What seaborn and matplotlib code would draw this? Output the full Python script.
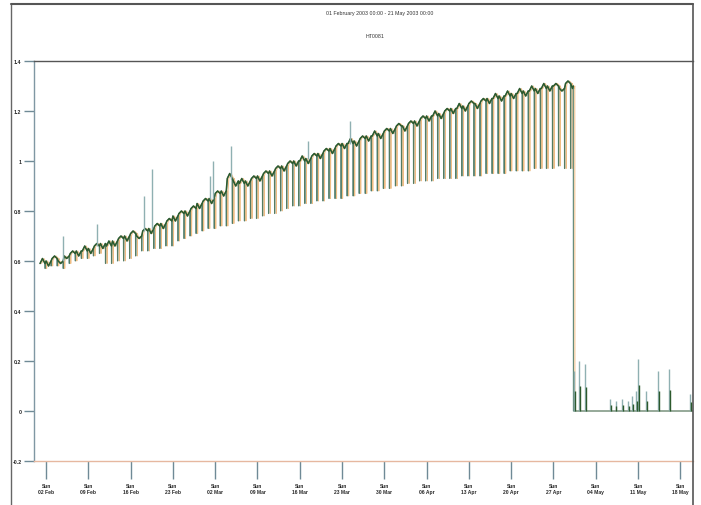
import pandas as pd
import numpy as np
import matplotlib
matplotlib.use("Agg")
import matplotlib.pyplot as plt
import seaborn as sns

# daily upper level, 01 Feb .. 30 Apr 2003
day_high = [0.59, 0.60, 0.61, 0.60, 0.62, 0.63, 0.64,
            0.64, 0.65, 0.66, 0.67, 0.66, 0.68, 0.69,
            0.70, 0.71, 0.70, 0.72, 0.73, 0.74, 0.75,
            0.76, 0.78, 0.79, 0.80, 0.81, 0.83, 0.84,
            0.85, 0.87, 0.88, 0.93, 0.92, 0.91, 0.92,
            0.93, 0.94, 0.95, 0.96, 0.97, 0.98, 0.99,
            1.00, 1.00, 1.01, 1.02, 1.03, 1.04, 1.05,
            1.06, 1.07, 1.07, 1.08, 1.09, 1.10, 1.10,
            1.11, 1.12, 1.13, 1.14, 1.14, 1.15, 1.16,
            1.17, 1.18, 1.18, 1.19, 1.20, 1.21, 1.21,
            1.22, 1.23, 1.23, 1.24, 1.25, 1.25, 1.26,
            1.26, 1.27, 1.27, 1.28, 1.28, 1.29, 1.29,
            1.30, 1.30, 1.29, 1.31, 1.30]
# mid-day level (the small wiggle between dips)
day_mid = [0.61, 0.58, 0.62, 0.59, 0.61, 0.64, 0.62,
           0.66, 0.63, 0.67, 0.65, 0.68, 0.66, 0.70,
           0.68, 0.72, 0.69, 0.73, 0.71, 0.75, 0.73,
           0.77, 0.76, 0.80, 0.78, 0.82, 0.81, 0.85,
           0.83, 0.88, 0.86, 0.95, 0.90, 0.93, 0.90,
           0.94, 0.92, 0.96, 0.94, 0.98, 0.96, 1.00,
           0.98, 1.02, 0.99, 1.03, 1.01, 1.05, 1.03,
           1.07, 1.05, 1.09, 1.06, 1.10, 1.08, 1.12,
           1.09, 1.13, 1.11, 1.15, 1.12, 1.16, 1.14,
           1.18, 1.16, 1.20, 1.17, 1.21, 1.19, 1.23,
           1.20, 1.24, 1.21, 1.25, 1.23, 1.27, 1.24,
           1.28, 1.25, 1.29, 1.26, 1.30, 1.27, 1.31,
           1.28, 1.31, 1.28, 1.32, 1.29]
# daily dip level
day_low = [0.57, 0.58, 0.58, 0.57, 0.59, 0.60, 0.61,
           0.61, 0.62, 0.63, 0.59, 0.59, 0.60, 0.60,
           0.61, 0.62, 0.64, 0.64, 0.65, 0.65, 0.66,
           0.66, 0.68, 0.69, 0.70, 0.71, 0.72, 0.73,
           0.73, 0.74, 0.74, 0.75, 0.76, 0.76, 0.77,
           0.77, 0.78, 0.79, 0.79, 0.80, 0.81, 0.82,
           0.82, 0.83, 0.83, 0.84, 0.84, 0.85, 0.85,
           0.85, 0.86, 0.86, 0.87, 0.87, 0.88, 0.88,
           0.89, 0.89, 0.90, 0.90, 0.91, 0.91, 0.92,
           0.92, 0.92, 0.93, 0.93, 0.93, 0.93, 0.94,
           0.94, 0.94, 0.94, 0.95, 0.95, 0.95, 0.95,
           0.96, 0.96, 0.96, 0.96, 0.97, 0.97, 0.97,
           0.97, 0.98, 0.97, 0.97, 0.96]
# isolated upward spikes while running (day offset from 01 Feb, peak value)
spike_day = [3.8, 9.4, 17.2, 18.5, 28.1, 28.6, 31.6, 44.4, 51.3]
spike_val = [0.70, 0.75, 0.86, 0.97, 0.94, 1.00, 1.06, 1.08, 1.16]
stop_day = 88.3
# spikes after the stop
off_day = [88.4, 89.2, 90.2, 94.4, 95.3, 96.4, 97.4, 98.0, 98.7, 99.0, 100.3, 102.3, 104.1, 107.6]
off_val = [0.16, 0.20, 0.19, 0.05, 0.04, 0.05, 0.04, 0.06, 0.08, 0.21, 0.08, 0.16, 0.17, 0.07]

title = "01 February 2003 00:00 - 21 May 2003 00:00"
subtitle = "HT0081"
start = pd.Timestamp("2003-02-01")
tick_dates = pd.date_range("2003-02-02", "2003-05-18", freq="7D")
tick_labels = [d.strftime("%a\n%d %b") for d in tick_dates]
y_ticks = [-0.2, 0, 0.2, 0.4, 0.6, 0.8, 1, 1.2, 1.4]
y_labels = ["-0.2", "0", "0.2", "0.4", "0.6", "0.8", "1", "1.2", "1.4"]

# build the sawtooth series from the daily levels
t, v = [], []
tt, tv = [], []
for d in range(len(day_high) - 1):
    t += [d, d + 0.4, d + 0.80, d + 0.84, d + 0.88]
    v += [day_high[d], day_mid[d], day_high[d], day_low[d], day_high[d]]
    tt += [d, d + 0.4, d + 0.82]
    tv += [day_high[d], day_mid[d], day_high[d]]
last = len(day_high) - 1
t += [last, last + 0.15, stop_day - 0.02, stop_day, 108.5]
v += [day_high[-1], day_mid[-1], day_high[-1], 0.0, 0.0]
tt += [last, last + 0.15, stop_day - 0.02]
tv += [day_high[-1], day_mid[-1], day_high[-1]]
df = pd.DataFrame({"time": start + pd.to_timedelta(t, unit="D"), "value": v})
df_orange = df.assign(time=df["time"] + pd.Timedelta(hours=6))
tops = pd.DataFrame({"time": start + pd.to_timedelta(tt, unit="D"), "value": tv})

sns.set_style("white")
plt.rcParams["font.family"] = ["Liberation Sans", "DejaVu Sans"]

fig = plt.figure(figsize=(7.01, 5.06), dpi=100)
ax = fig.add_axes([34 / 701, 1 - 462 / 506, (693 - 34) / 701, 400 / 506])

slate = "#8fb0b2"
green = "#2d5a2d"
orange = "#efbd84"

sns.lineplot(data=df_orange, x="time", y="value", color=orange, lw=0.7, ax=ax,
             estimator=None, sort=False)
sns.lineplot(data=df, x="time", y="value", color=slate, lw=0.9, ax=ax,
             estimator=None, sort=False)
sns.lineplot(data=df, x="time", y="value", color=green, lw=0.5, alpha=0.6, ax=ax,
             estimator=None, sort=False)
sns.lineplot(data=tops, x="time", y="value", color=green, lw=1.1, ax=ax,
             estimator=None, sort=False)

sp_t = start + pd.to_timedelta(spike_day, unit="D")
sp_base = [day_high[int(d)] for d in spike_day]
ax.vlines(sp_t, sp_base, spike_val, color=slate, lw=1.0)
off_t = start + pd.to_timedelta(off_day, unit="D")
ax.vlines(off_t, 0, off_val, color=slate, lw=1.0)
ax.vlines(off_t + pd.Timedelta(hours=3), 0, [x * 0.5 for x in off_val], color=green, lw=1.0)

ax.set_xlim(start - pd.Timedelta(days=1), start + pd.Timedelta(days=108.1))
ax.set_ylim(-0.2, 1.4)
ax.set_xticks(tick_dates)
ax.set_xticklabels(tick_labels, fontsize=3.6, fontweight="bold", linespacing=1.1)
ax.set_yticks(y_ticks)
ax.set_yticklabels(y_labels, fontsize=3.8, fontweight="bold")
ax.tick_params(axis="x", length=13, width=1.0, color="#6f8a96", pad=3, bottom=True)
ax.tick_params(axis="y", length=7, width=1.0, color="#6f8a96", pad=2, left=True)
ax.set_xlabel("")
ax.set_ylabel("")
ax.spines["left"].set_color("#7f97a3")
ax.spines["left"].set_linewidth(1.0)
ax.spines["bottom"].set_color("#e6b8a0")
ax.spines["bottom"].set_linewidth(1.0)
ax.spines["top"].set_color("#555555")
ax.spines["top"].set_linewidth(1.0)
ax.spines["right"].set_visible(False)

# outer frame
fig.add_artist(plt.Line2D([11 / 701, 11 / 701], [0, 1 - 5 / 506], color="#666666", lw=1.0))
fig.add_artist(plt.Line2D([11 / 701, 693 / 701], [1 - 5 / 506, 1 - 5 / 506], color="#555555", lw=1.5))
fig.add_artist(plt.Line2D([693 / 701, 693 / 701], [0, 1 - 5 / 506], color="#555555", lw=1.2))

fig.text(380 / 701, 1 - 14 / 506, title, ha="center", va="center", fontsize=3.8, color="#333333")
fig.text(375 / 701, 1 - 37 / 506, subtitle, ha="center", va="center", fontsize=3.8, color="#333333")

fig.savefig("out.png", dpi=100)
